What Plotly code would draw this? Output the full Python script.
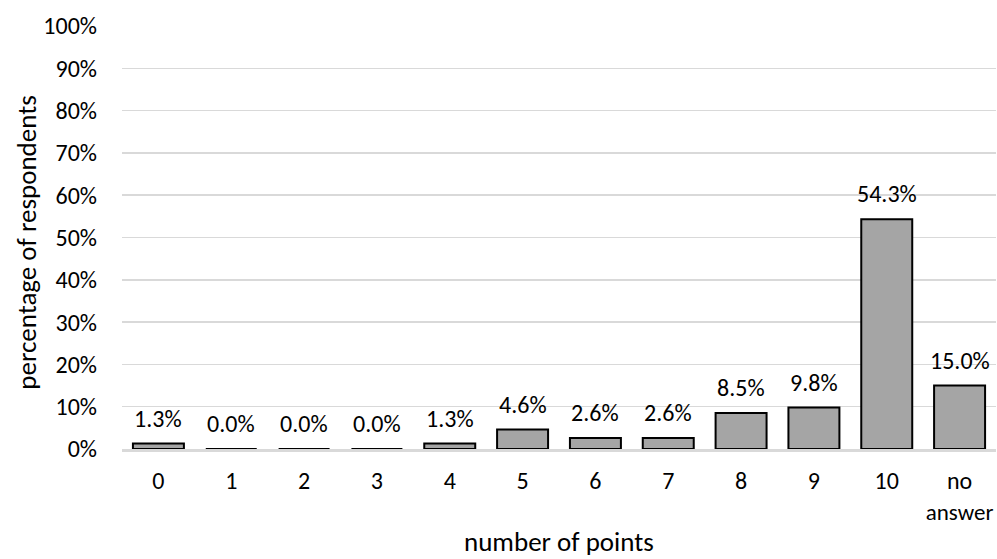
import plotly.graph_objects as go

categories = ["0", "1", "2", "3", "4", "5", "6", "7", "8", "9", "10",
              "no<br><span style=\"font-size:23px\">answer</span>"]
values = [1.3, 0.0, 0.0, 0.0, 1.3, 4.6, 2.6, 2.6, 8.5, 9.8, 54.3, 15.0]
y_ticks = list(range(0, 101, 10))
y_tick_labels = [f"{t}%" for t in y_ticks]
x_title = "number of points"
y_title = "percentage of respondents"

FONT = "Calibri, Carlito, Lato, sans-serif"
TICK_SIZE = 24
TITLE_SIZE = 27

fig = go.Figure()
fig.add_trace(go.Bar(
    x=categories,
    y=values,
    marker=dict(color="#a5a5a5", line=dict(color="#000000", width=2)),
    hoverinfo="skip",
))

for c, v in zip(categories, values):
    fig.add_annotation(
        x=c, y=v, xref="x", yref="y",
        text=f"{v:.1f}%", showarrow=False,
        yanchor="bottom", yshift=9,
        font=dict(family=FONT, size=TICK_SIZE, color="#000000"),
    )

fig.add_annotation(
    x=0.5, y=-0.2175, xref="paper", yref="paper",
    text=x_title, showarrow=False, xanchor="center", yanchor="middle",
    font=dict(family=FONT, size=TITLE_SIZE, color="#000000"),
)
fig.add_annotation(
    x=-0.1087, y=0.49, xref="paper", yref="paper",
    text=y_title, showarrow=False, xanchor="center", yanchor="middle",
    textangle=-90,
    font=dict(family=FONT, size=TITLE_SIZE, color="#000000"),
)

fig.update_layout(
    width=997, height=559,
    margin=dict(l=122, r=1, t=26, b=110),
    paper_bgcolor="white", plot_bgcolor="white",
    bargap=0.3,
    showlegend=False,
    font=dict(family=FONT, size=TICK_SIZE, color="#000000"),
)
fig.update_xaxes(
    type="category",
    showgrid=False,
    showline=True, linecolor="#d9d9d9", linewidth=3, layer="above traces",
    ticks="", ticklabelstandoff=8,
    tickfont=dict(family=FONT, size=TICK_SIZE, color="#000000"),
)
fig.update_yaxes(
    range=[0, 100],
    tickvals=y_ticks, ticktext=y_tick_labels,
    showgrid=True, gridcolor="#d9d9d9", gridwidth=1.5,
    zeroline=False, showline=False,
    ticks="", ticklabelstandoff=24,
    tickfont=dict(family=FONT, size=TICK_SIZE, color="#000000"),
)

fig.write_html(
    "out.html",
    config={"displayModeBar": False, "staticPlot": True},
    post_script="document.body.style.margin='0';document.body.style.overflow='hidden';",
)
